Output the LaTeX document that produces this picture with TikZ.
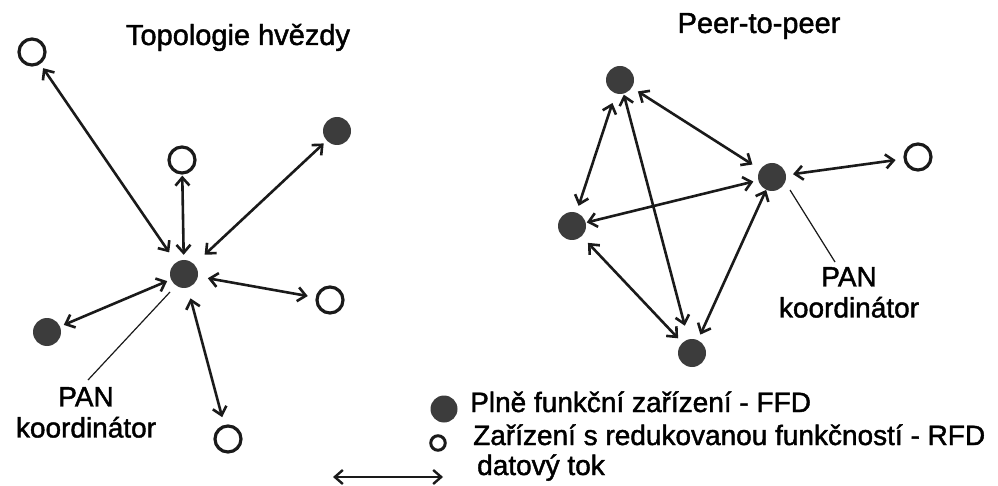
\documentclass[tikz,border=0pt]{standalone}
\usepackage{fontspec}
\setmainfont{Liberation Sans}
\newfontfamily\heavyfont{Liberation Sans}[FakeBold=1.5]
\usetikzlibrary{arrows.meta}
\definecolor{nodegray}{HTML}{3C3C3C}
\definecolor{linegray}{HTML}{1A1A1A}
\begin{document}
\begin{tikzpicture}[x=1pt,y=-1pt,
  ffd/.style={circle,fill=nodegray,inner sep=0pt,minimum size=28pt},
  rfd/.style={circle,draw=linegray,fill=white,line width=3.2pt,inner sep=0pt,minimum size=26pt},
  lk/.style={draw=linegray,line width=2.6pt,{Straight Barb[length=8pt,width=14pt]}-{Straight Barb[length=8pt,width=14pt]}},
  ptr/.style={draw=linegray,line width=1.2pt},
  lbl/.style={font=\heavyfont\fontsize{28}{31}\selectfont,inner sep=0pt,text=black},
  ttl/.style={font=\heavyfont\fontsize{29}{31}\selectfont,inner sep=0pt,anchor=base,text=black}
]
\useasboundingbox (0,0) rectangle (998,486);

% ---------- Star topology ----------
\node[ttl] (t1) at (238,45) {Topologie hvězdy};
\node[ffd] (C)  at (184,274) {};
\node[rfd] (O1) at (32,52) {};
\node[rfd] (O2) at (182,160) {};
\node[ffd] (F1) at (337,131) {};
\node[rfd] (O3) at (330,300) {};
\node[ffd] (F2) at (47,332) {};
\node[rfd] (O4) at (228,439) {};

\draw[lk,shorten <=12pt,shorten >=5pt] (C) -- (O1);
\draw[lk,shorten <=5pt,shorten >=1pt] (C) -- (O2);
\draw[lk,shorten <=14pt,shorten >=4pt] (C) -- (F1);
\draw[lk,shorten <=4pt,shorten >=4pt] (C) -- (F2);
\draw[lk,shorten <=10pt,shorten >=8pt] (C) -- (O3);
\draw[lk,shorten <=11pt,shorten >=8pt] (C) -- (O4);

\node[lbl,align=center,anchor=north] (pan1) at (86,387) {PAN\\koordinátor};
\coordinate (pa1) at (170,292);
\coordinate (pb1) at (88,380);
\draw[ptr] (pa1) -- (pb1);

% ---------- Peer-to-peer ----------
\node[ttl] (t2) at (759,33) {Peer-to-peer};
\node[ffd] (P1) at (620,80) {};
\node[ffd] (P2) at (772,177) {};
\node[rfd] (P3) at (918,157) {};
\node[ffd] (P4) at (572,226) {};
\node[ffd] (P5) at (692,353) {};

\draw[lk,shorten <=7pt,shorten >=9pt] (P1) -- (P2);
\draw[lk,shorten <=10pt,shorten >=7pt] (P1) -- (P4);
\draw[lk,shorten <=1pt,shorten >=14pt] (P1) -- (P5);
\draw[lk,shorten <=1pt,shorten >=5pt] (P4) -- (P2);
\draw[lk,shorten <=9pt,shorten >=6pt] (P4) -- (P5);
\draw[lk,shorten <=6pt,shorten >=0pt] (P5) -- (P2);
\draw[lk,shorten <=7pt,shorten >=8pt] (P2) -- (P3);

\node[lbl,align=center,anchor=north] (pan2) at (849,267) {PAN\\koordinátor};
\coordinate (pa2) at (790,190);
\coordinate (pb2) at (835,262);
\draw[ptr] (pa2) -- (pb2);

% ---------- Legend ----------
\node[ffd,minimum size=27pt] (lf) at (444,409) {};
\node[rfd,minimum size=14.5pt,line width=3pt] (lo) at (438,443) {};
\coordinate (la) at (333,477);
\coordinate (lb) at (443,477);
\draw[lk,line width=2.4pt] (la) -- (lb);
\node[lbl,anchor=base west] (tf) at (470,412) {Plně funkční zařízení - FFD};
\node[lbl,anchor=base west] (to) at (473,445) {Zařízení s redukovanou funkčností - RFD};
\node[lbl,anchor=base west] (td) at (477,475) {datový tok};
\end{tikzpicture}
\end{document}
